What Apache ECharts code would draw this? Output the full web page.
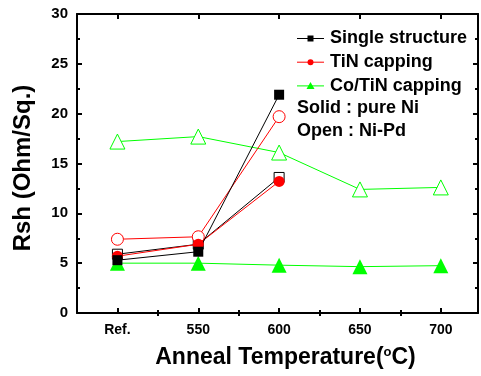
<!DOCTYPE html>
<html><head><meta charset="utf-8">
<script src="https://cdn.jsdelivr.net/npm/echarts@6/dist/echarts.min.js"></script>
<style>html,body{margin:0;padding:0;background:#fff}#c{width:481px;height:376px}</style>
</head><body><div id="c"></div>
<script>
const xTicks = [500, 550, 600, 650, 700];
const xMinor = [525, 575, 625, 675];
const xLabels = {500: 'Ref.', 550: '550', 600: '600', 650: '650', 700: '700'};
const single_solid = [[500, 5.3], [550, 6.15], [600, 21.9]];
const single_open = [[500, 5.9], [550, 6.9], [600, 13.6]];
const tin_solid = [[500, 5.7], [550, 6.9], [600, 13.2]];
const tin_open = [[500, 7.4], [550, 7.65], [600, 19.7]];
const cotin_solid = [[500, 5.0], [550, 5.0], [600, 4.8], [650, 4.65], [700, 4.75]];
const cotin_open = [[500, 17.2], [550, 17.7], [600, 16.1], [650, 12.4], [700, 12.6]];

const FONT = '"Liberation Sans", Arial, sans-serif';
const GREEN = '#00ff00';
const chart = echarts.init(document.getElementById('c'));
const axisLine = {show: true, onZero: false, lineStyle: {color: '#000', width: 2}};
function xAx(pos, vals, len, labels, line) {
  return {
    type: 'value', position: pos, min: 475, max: 723,
    axisLine: line ? axisLine : {show: false},
    splitLine: {show: false},
    axisTick: {show: true, inside: true, length: len, customValues: vals, lineStyle: {color: '#000', width: 2}},
    axisLabel: labels ? {show: true, customValues: vals, formatter: v => xLabels[v] || '', color: '#000',
      fontFamily: FONT, fontWeight: 'bold', fontSize: 14, margin: 10} : {show: false}
  };
}
const xAxes = [xAx('bottom', xTicks, 5, true, true), xAx('top', xTicks, 5, false, true),
  xAx('bottom', xMinor, 3, false, false), xAx('top', xMinor, 3, false, false)];
xAxes[0].name = '{a|Anneal Temperature(}{s|o}{a|C)}';
xAxes[0].nameLocation = 'middle';
xAxes[0].nameGap = 33;
xAxes[0].nameTextStyle = {padding: [0, 0, 0, 16], rich: {
  a: {fontFamily: FONT, fontWeight: 'bold', fontSize: 23, color: '#000'},
  s: {fontFamily: FONT, fontWeight: 'bold', fontSize: 13, color: '#000', verticalAlign: 'top', padding: [0, 0, 11, 0]}
}};
function yAx(pos, labels) {
  return {
    type: 'value', position: pos, min: 0, max: 30, interval: 5,
    axisLine: axisLine, splitLine: {show: false},
    axisTick: {show: true, inside: true, length: 5, lineStyle: {color: '#000', width: 2}},
    minorTick: {show: true, splitNumber: 2, length: 3, lineStyle: {color: '#000', width: 2}},
    axisLabel: labels ? {show: true, color: '#000', fontFamily: FONT, fontWeight: 'bold', fontSize: 15, margin: 9} : {show: false}
  };
}
const yAxes = [yAx('left', true), yAx('right', false)];
yAxes[0].name = 'Rsh (Ohm/Sq.)';
yAxes[0].nameLocation = 'middle';
yAxes[0].nameGap = 42;
yAxes[0].nameTextStyle = {fontFamily: FONT, fontWeight: 'bold', fontSize: 24, color: '#000', padding: [0, 9, 0, 0]};

function ser(name, data, color, symbol, size, filled) {
  return {
    name: name, type: 'line', data: data, symbol: symbol, symbolSize: size,
    lineStyle: {color: color, width: 1},
    itemStyle: {color: filled ? color : '#fff', borderColor: color, borderWidth: filled ? 0 : 1},
    emphasis: {disabled: true}, animation: false, z: filled ? 3 : 2
  };
}
const series = [
  ser('Co/TiN open', cotin_open, GREEN, 'triangle', 15, false),
  ser('Co/TiN capping', cotin_solid, GREEN, 'triangle', 15, true),
  ser('TiN solid', tin_solid, '#ff0000', 'circle', 11, true),
  ser('Single structure', single_solid, '#000000', 'rect', 10, true),
  ser('Single open', single_open, '#000000', 'rect', 10, false),
  ser('TiN capping', tin_open, '#ff0000', 'circle', 12, false)
];
const legendSeries = [
  {name: 'Single structure', color: '#000', symbol: 'rect'},
  {name: 'TiN capping', color: '#ff0000', symbol: 'circle'},
  {name: 'Co/TiN capping', color: GREEN, symbol: 'triangle'}
];
const graphics = [];
legendSeries.forEach((s, i) => {
  const y = 38.5 + i * 23.7;
  graphics.push({type: 'line', shape: {x1: 297, y1: y, x2: 324, y2: y}, style: {stroke: s.color, lineWidth: 1}});
  if (s.symbol === 'rect') graphics.push({type: 'rect', shape: {x: 307.5, y: y - 3, width: 6, height: 6}, style: {fill: s.color}});
  if (s.symbol === 'circle') graphics.push({type: 'circle', shape: {cx: 310.5, cy: y, r: 3}, style: {fill: s.color}});
  if (s.symbol === 'triangle') graphics.push({type: 'polygon', shape: {points: [[310.5, y - 4], [314.5, y + 3], [306.5, y + 3]]}, style: {fill: s.color}});
  graphics.push({type: 'text', x: 330, y: y, style: {text: s.name, font: 'bold 18px ' + FONT, fill: '#000', verticalAlign: 'middle'}});
});
graphics.push({type: 'text', x: 297, y: 108.5, style: {text: 'Solid : pure Ni', font: 'bold 18px ' + FONT, fill: '#000', verticalAlign: 'middle'}});
graphics.push({type: 'text', x: 297, y: 131.5, style: {text: 'Open : Ni-Pd', font: 'bold 18px ' + FONT, fill: '#000', verticalAlign: 'middle'}});

chart.setOption({
  animation: false,
  grid: {left: 77, right: 3, top: 14, bottom: 63, containLabel: false},
  xAxis: xAxes,
  yAxis: yAxes,
  series: series,
  graphic: graphics
});
</script></body></html>
